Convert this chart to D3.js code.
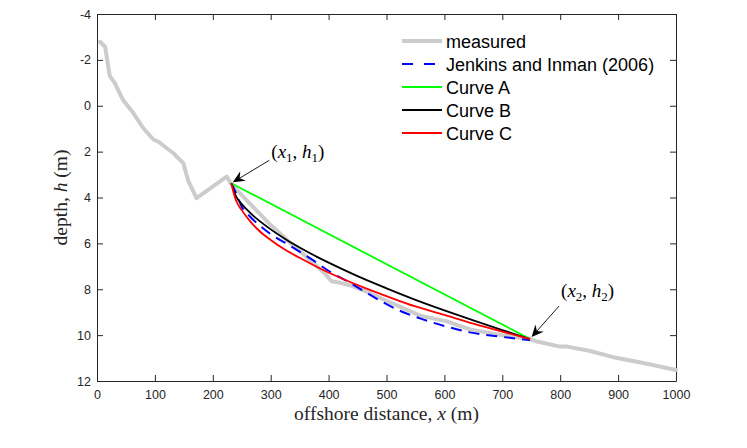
<!DOCTYPE html>
<html><head><meta charset="utf-8">
<script src="https://cdn.jsdelivr.net/npm/d3@7"></script>
<style>body{margin:0;background:#fff}</style>
</head><body>
<svg id="c" width="747" height="448"></svg>
<script>
// ---- data ----
const xTicks = [0,100,200,300,400,500,600,700,800,900,1000];
const yTicks = [-4,-2,0,2,4,6,8,10,12];

const measured = [[5,-2.79],[14,-2.57],[22,-1.3],[31,-0.98],[45,-0.25],[63,0.33],[80,0.98],[97,1.46],[106,1.57],[132,2.07],[149,2.5],[158,3.3],[172,4.03],[224,3.09],[231,3.38],[250,3.9],[275,4.55],[300,5.2],[330,5.9],[360,6.55],[380,7.0],[395,7.35],[405,7.65],[420,7.72],[440,7.85],[470,8.15],[500,8.5],[558,9.15],[604,9.4],[644,9.75],[700,10.0],[748,10.18],[760,10.28],[800,10.5],[812,10.5],[850,10.68],[890,10.95],[950,11.25],[1000,11.52]];

const jenkins = [[232,3.38],[240,3.8],[250,4.4],[265,4.85],[280,5.2],[300,5.6],[330,6.05],[371,6.7],[405,7.28],[437,7.72],[461,8.08],[494,8.57],[527,8.98],[558,9.27],[604,9.63],[644,9.88],[701,10.08],[731,10.17],[748,10.22]];

const curveA = [[232,3.38],[748,10.17]];

const curveB = [[232,3.38],[240,3.94],[250,4.29],[265,4.68],[280,5.01],[300,5.39],[325,5.81],[350,6.18],[380,6.59],[420,7.08],[460,7.54],[500,7.96],[550,8.46],[600,8.92],[650,9.36],[700,9.78],[748,10.17]];

const curveC = [[232,3.38],[236,3.8],[240,4.12],[250,4.55],[265,5.05],[280,5.45],[300,5.85],[325,6.28],[350,6.63],[380,7.03],[420,7.5],[460,7.92],[500,8.3],[550,8.75],[600,9.12],[650,9.5],[700,9.85],[748,10.17]];

const seriesNames = ["measured","Jenkins and Inman (2006)","Curve A","Curve B","Curve C"];
const seriesColors = ["#cccccc","#0000ff","#00ff00","#000000","#ff0000"];

const point1 = {x:232, h:3.38, sub:"1"};
const point2 = {x:748, h:10.17, sub:"2"};

// ---- chart ----
const svg = d3.select("#c");
const L=97, R=676, T=14, B=381;
const x = d3.scaleLinear([0,1000],[L,R]);
const y = d3.scaleLinear([-4,12],[T,B]);
const axisColor = "#262626";

function styleAxis(g){
  g.selectAll(".domain").attr("stroke",axisColor);
  g.selectAll(".tick line").attr("stroke",axisColor);
  g.selectAll("text").attr("fill",axisColor).attr("font-family","'Liberation Sans',Arial,sans-serif").attr("font-size",12.5);
}
const fmt = d=>String(d);
svg.append("g").attr("transform",`translate(0,${B})`)
  .call(d3.axisBottom(x).tickValues(xTicks).tickSizeInner(-6).tickSizeOuter(0).tickPadding(9).tickFormat(fmt)).call(styleAxis);
svg.append("g").attr("transform",`translate(0,${T})`)
  .call(d3.axisTop(x).tickValues(xTicks).tickSizeInner(-6).tickSizeOuter(0).tickFormat("")).call(styleAxis);
svg.append("g").attr("transform",`translate(${L},0)`)
  .call(d3.axisLeft(y).tickValues(yTicks).tickSizeInner(-6).tickSizeOuter(0).tickPadding(6).tickFormat(fmt)).call(styleAxis);
svg.append("g").attr("transform",`translate(${R},0)`)
  .call(d3.axisRight(y).tickValues(yTicks).tickSizeInner(-6).tickSizeOuter(0).tickFormat("")).call(styleAxis);

const lineLin = d3.line().x(d=>x(d[0])).y(d=>y(d[1]));
const lineSmooth = d3.line().x(d=>x(d[0])).y(d=>y(d[1])).curve(d3.curveMonotoneX);

svg.append("path").attr("d",lineLin(measured)).attr("fill","none").attr("stroke",seriesColors[0]).attr("stroke-width",4).attr("stroke-linejoin","round").attr("stroke-linecap","round");
svg.append("path").attr("d",lineSmooth(jenkins)).attr("fill","none").attr("stroke",seriesColors[1]).attr("stroke-width",2).attr("stroke-dasharray","11,7");
svg.append("path").attr("d",lineLin(curveA)).attr("fill","none").attr("stroke",seriesColors[2]).attr("stroke-width",1.8);
svg.append("path").attr("d",lineSmooth(curveB)).attr("fill","none").attr("stroke",seriesColors[3]).attr("stroke-width",1.8);
svg.append("path").attr("d",lineSmooth(curveC)).attr("fill","none").attr("stroke",seriesColors[4]).attr("stroke-width",1.8);

// legend
const leg = svg.append("g");
seriesNames.forEach((n,i)=>{
  const cy = 41 + i*23;
  const ln = leg.append("line").attr("x1",402).attr("x2",442).attr("y1",cy).attr("y2",cy)
    .attr("stroke",seriesColors[i]).attr("stroke-width", i===0?4:2);
  if(i===1) ln.attr("stroke-dasharray","11,11");
  leg.append("text").attr("x",446).attr("y",cy+6.5).text(n)
    .attr("font-family","'Liberation Sans',Arial,sans-serif").attr("font-size",18).attr("fill","#000");
});

// axis labels
const serif = "'Liberation Serif','Times New Roman',serif";
const xl = svg.append("text").attr("x",(L+R)/2).attr("y",419.5).attr("text-anchor","middle")
  .attr("font-family",serif).attr("font-size",19.5).attr("fill","#262626");
xl.append("tspan").text("offshore distance, ");
xl.append("tspan").attr("font-style","italic").text("x");
xl.append("tspan").text(" (m)");
const yl = svg.append("text").attr("transform",`translate(67,${(T+B)/2}) rotate(-90)`).attr("text-anchor","middle")
  .attr("font-family",serif).attr("font-size",19.5).attr("fill","#262626");
yl.append("tspan").text("depth, ");
yl.append("tspan").attr("font-style","italic").text("h");
yl.append("tspan").text(" (m)");

// annotations
function arrow(tx,ty,hx,hy){
  const ang = Math.atan2(hy-ty,hx-tx);
  const Ln = 12, W = 5.5, N = 8;
  const ux=Math.cos(ang), uy=Math.sin(ang), px=-uy, py=ux;
  svg.append("line").attr("x1",tx).attr("y1",ty).attr("x2",hx-ux*N).attr("y2",hy-uy*N).attr("stroke","#000").attr("stroke-width",0.9);
  const pts=[[hx,hy],[hx-ux*Ln+px*W,hy-uy*Ln+py*W],[hx-ux*N,hy-uy*N],[hx-ux*Ln-px*W,hy-uy*Ln-py*W]];
  svg.append("path").attr("d","M"+pts.map(p=>p.join(",")).join("L")+"Z").attr("fill","#000");
}
function label(px,py,sub){
  const t = svg.append("text").attr("x",px).attr("y",py).attr("font-family",serif).attr("font-size",19).attr("fill","#000");
  t.append("tspan").text("(");
  t.append("tspan").attr("font-style","italic").text("x");
  t.append("tspan").attr("font-size",13).attr("dy",4).text(sub);
  t.append("tspan").attr("dy",-4).text(", ");
  t.append("tspan").attr("font-style","italic").text("h");
  t.append("tspan").attr("font-size",13).attr("dy",4).text(sub);
  t.append("tspan").attr("dy",-4).text(")");
}
arrow(x(point1.x)+38, y(point1.h)-23, x(point1.x)+1.5, y(point1.h)-1);
label(x(point1.x)+40, y(point1.h)-25, point1.sub);
arrow(x(point2.x)+29, y(point2.h)-33, x(point2.x)+1.5, y(point2.h)-2);
label(x(point2.x)+31, y(point2.h)-42, point2.sub);
</script>
</body></html>
